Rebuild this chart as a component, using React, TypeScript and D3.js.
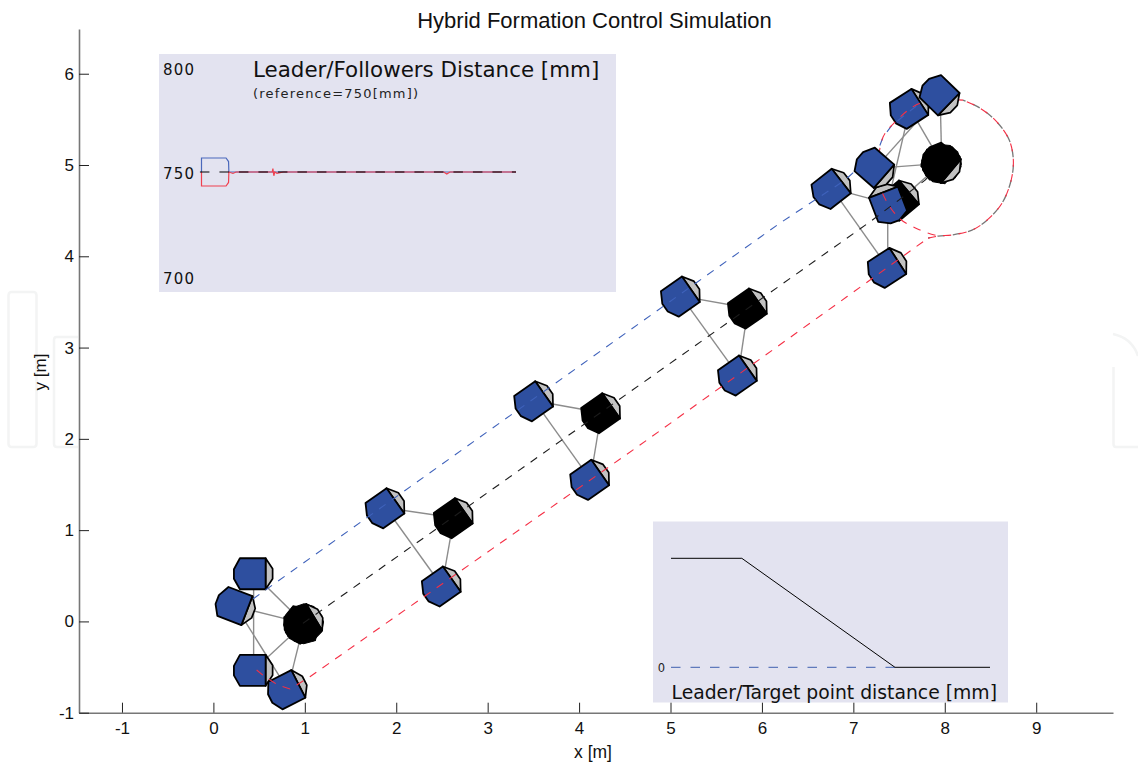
import React, { useRef, useEffect } from 'react';
import * as d3 from 'd3';

type Pt = [number, number];

// axis ticks
const xTicks = [-1, 0, 1, 2, 3, 4, 5, 6, 7, 8, 9];
const yTicks = [-1, 0, 1, 2, 3, 4, 5, 6];

// robots: x [m], y [m], heading [deg], kind ('f' follower, 'l' leader)
const robots: [number, number, number, string][] = [
  [0.99, -0.022, 31, 'l'],
  [0.44, 0.522, 0, 'f'],
  [0.244, 0.165, -21, 'f'],
  [0.44, -0.536, 0, 'f'],
  [0.812, -0.744, 27, 'f'],
  [2.631, 1.136, 35, 'l'],
  [1.884, 1.245, 35, 'f'],
  [2.5, 0.388, 35, 'f'],
  [4.243, 2.286, 35, 'l'],
  [3.51, 2.417, 35, 'f'],
  [4.123, 1.556, 35, 'f'],
  [5.848, 3.433, 35, 'l'],
  [5.115, 3.564, 35, 'f'],
  [5.739, 2.699, 35, 'f'],
  [6.764, 4.744, 38, 'f'],
  [7.376, 3.878, 33, 'f'],
  [7.617, 5.62, 33, 'f'],
  [7.508, 4.616, 40, 'l'],
  [7.376, 4.579, 111, 'f'],
  [7.949, 5.758, -44, 'f'],
  [7.237, 4.963, -41, 'f'],
  [7.967, 5.018, -40, 'l'],
];
// the last three are drawn over the trajectories
const onTopFrom = 19;

// leaders spinning on the spot leave a rounder black body behind them
const spinPoses: [number, number, number][] = [
  [0.99, -0.022, -10],
  [0.99, -0.022, 75],
];
const spinPosesTop: [number, number, number][] = [
  [7.967, 5.018, 5],
  [7.967, 5.018, 50],
];

// links between robots, indexes into robots
const links: Pt[] = [
  [0, 1], [0, 2], [0, 3], [0, 4], [1, 3], [2, 4],
  [5, 6], [5, 7], [6, 7],
  [8, 9], [8, 10], [9, 10],
  [11, 12], [11, 13], [12, 13],
  [14, 15], [14, 18], [15, 18], [16, 21], [19, 21], [20, 21], [16, 18], [19, 20], [21, 17],
];

const bluePath: Pt[] = [
  [0.432, 0.245], [6.198, 4.364], [6.909, 4.835], [7.27, 5.164], [7.325, 5.306], [7.423, 5.437], [7.73, 5.678],
];
const blackPath: Pt[] = [
  [0.979, -0.022], [7.183, 4.378], [7.785, 4.834], [7.967, 5.018],
];
const redLead: Pt[] = [
  [0.473, -0.532], [0.563, -0.606], [0.706, -0.697], [0.837, -0.74], [0.91, -0.697], [1.056, -0.606],
  [4.666, 1.932], [6.928, 3.556], [7.817, 4.199],
];
const loopPath: Pt[] = [
  [7.817, 4.199], [7.93, 4.222], [8.09, 4.235], [8.298, 4.287], [8.462, 4.396], [8.627, 4.583], [8.725, 4.83],
  [8.75, 5.054], [8.705, 5.273], [8.572, 5.47], [8.386, 5.623], [8.2, 5.711],
];
const redReturn: Pt[] = [
  [8.2, 5.711], [7.73, 5.678], [7.423, 5.437], [7.325, 5.306], [7.27, 4.998], [7.292, 4.758], [7.489, 4.429], [7.73, 4.287], [7.93, 4.222],
];

// upper inset: time [%], distance [mm]
const distanceTicks = [800, 750, 700];
const followerBlue: Pt[] = [
  [0, 750], [0, 756.7], [7.8, 756.7], [8.6, 755], [8.7, 750], [100, 750],
];
const followerRed: Pt[] = [
  [0, 750], [0, 743.3], [7.8, 743.3], [8.6, 745], [8.7, 750], [10, 749.3], [11, 750], [22.5, 750], [22.7, 751.6], [23, 748.2],
  [23.3, 750], [24, 749.4], [26, 750], [77, 750], [78, 749], [79, 750], [100, 750],
];
const referenceLine: Pt[] = [[-0.5, 750], [100, 750]];

// lower inset: time [%], distance (no scale printed)
const targetDistance: Pt[] = [[0, 1000], [22.2, 1000], [70.2, 0], [100, 0]];
const targetZero: Pt[] = [[0, 0], [70.2, 0]];

// robot outline in pixels, heading along +x
const rearOutline: Pt[] = [[12, -15.5], [-13.7, -15.5], [-19.7, -4.5], [-19.7, 5], [-13.7, 15.5], [12, 15.5]];
const noseOutline: Pt[] = [[12, -15.5], [19, -5], [19, 5], [12, 15.5]];

const W = 1138;
const H = 766;
const SANS = '"Liberation Sans", Arial, sans-serif';
const DEJAVU = '"DejaVu Sans", Verdana, sans-serif';
const BLUE = '#2e4f9f';
const PANEL = '#e3e3f0';

export default function App(): React.ReactElement {
  const svgRef = useRef<SVGSVGElement | null>(null);

  useEffect(() => {
    const svg = d3.select(svgRef.current);
    svg.selectAll('*').remove();

    const x = d3.scaleLinear().domain([-1.47, 9.84]).range([79, 1113]);
    const y = d3.scaleLinear().domain([-1, 6.49]).range([712.7, 29]);

    // faint watermark left over in the page
    const wm = svg.append('g').attr('fill', 'none').attr('stroke', '#f3f4f4').attr('stroke-width', 2.5);
    wm.append('rect').attr('x', 8.5).attr('y', 292).attr('width', 28).attr('height', 155).attr('rx', 3);
    wm.append('path').attr('d', 'M78,337H56.5Q54,337 54,340V444Q54,447 57,447H78');
    wm.append('path').attr('d', 'M1113,334Q1132,338 1138,356M1113.5,367V444Q1113.5,447 1116,447H1138');

    // insets
    svg.append('rect').attr('x', 159).attr('y', 54).attr('width', 457).attr('height', 238).attr('fill', PANEL);
    svg.append('rect').attr('x', 653).attr('y', 521.5).attr('width', 355).attr('height', 181).attr('fill', PANEL);

    const tUpper = d3.scaleLinear().domain([0, 100]).range([201.5, 516]);
    const vUpper = d3.scaleLinear().domain([700, 800]).range([276.5, 67.5]);
    const upperLine = d3.line<Pt>().x((d) => tUpper(d[0])).y((d) => vUpper(d[1]));

    svg.append('path').attr('d', upperLine(followerBlue)).attr('fill', 'none')
      .attr('stroke', '#4a68bb').attr('stroke-width', 1.2);
    svg.append('path').attr('d', upperLine(followerRed)).attr('fill', 'none')
      .attr('stroke', '#f0404f').attr('stroke-width', 1.2);
    svg.append('path').attr('d', upperLine(referenceLine)).attr('fill', 'none')
      .attr('stroke', '#000').attr('stroke-width', 1.2).attr('stroke-dasharray', '9.5 10');

    svg.append('g').selectAll('text').data(distanceTicks).enter().append('text')
      .attr('x', 163)
      .attr('y', (d) => vUpper(d) + 7)
      .attr('font-family', DEJAVU)
      .attr('font-size', 15)
      .attr('letter-spacing', 1.2)
      .attr('fill', '#111')
      .text((d) => d);

    svg.append('text').attr('x', 253).attr('y', 76.5).attr('font-family', DEJAVU).attr('font-size', 21.4)
      .attr('fill', '#111').text('Leader/Followers Distance [mm]');
    svg.append('text').attr('x', 253).attr('y', 98).attr('font-family', DEJAVU).attr('font-size', 13)
      .attr('letter-spacing', 1.2).attr('fill', '#222').text('(reference=750[mm])');

    const tLower = d3.scaleLinear().domain([0, 100]).range([671, 990]);
    const vLower = d3.scaleLinear().domain([0, 1000]).range([667.3, 558.3]);
    const lowerLine = d3.line<Pt>().x((d) => tLower(d[0])).y((d) => vLower(d[1]));

    svg.append('path').attr('d', lowerLine(targetZero)).attr('fill', 'none')
      .attr('stroke', '#3f5fb0').attr('stroke-width', 1).attr('stroke-dasharray', '9.5 10');
    svg.append('path').attr('d', lowerLine(targetDistance)).attr('fill', 'none')
      .attr('stroke', '#000').attr('stroke-width', 1);
    svg.append('text').attr('x', 665).attr('y', vLower(0) + 4.5).attr('text-anchor', 'end')
      .attr('font-family', DEJAVU).attr('font-size', 11.5).attr('fill', '#222').text('0');
    svg.append('text').attr('x', 671.5).attr('y', 699).attr('font-family', DEJAVU).attr('font-size', 18.8)
      .attr('fill', '#111').text('Leader/Target point distance [mm]');

    // axes
    const xAxis = svg.append('g').attr('transform', `translate(0,${y(-1)})`)
      .call(d3.axisBottom(x).tickValues(xTicks).tickFormat((d) => String(d)).tickSize(-10).tickSizeOuter(0).tickPadding(9));
    const yAxis = svg.append('g').attr('transform', `translate(${x(-1.47)},0)`)
      .call(d3.axisLeft(y).tickValues(yTicks).tickFormat((d) => String(d)).tickSize(-10).tickSizeOuter(0).tickPadding(5));
    [xAxis, yAxis].forEach((axis) => {
      axis.select('.domain').attr('stroke', '#777').attr('stroke-width', 1.6);
      axis.selectAll('.tick line').attr('stroke', '#222').attr('stroke-width', 1);
      axis.selectAll('.tick text').attr('font-family', SANS).attr('font-size', 17).attr('fill', '#111');
    });

    svg.append('text').attr('x', 594.5).attr('y', 28).attr('text-anchor', 'middle')
      .attr('font-family', SANS).attr('font-size', 22).attr('fill', '#111')
      .text('Hybrid Formation Control Simulation');
    svg.append('text').attr('x', 593).attr('y', 757.5).attr('text-anchor', 'middle')
      .attr('font-family', SANS).attr('font-size', 17.5).attr('fill', '#111').text('x [m]');
    svg.append('text').attr('transform', 'translate(46,372) rotate(-90)').attr('text-anchor', 'middle')
      .attr('font-family', SANS).attr('font-size', 17).attr('fill', '#111').text('y [m]');

    // links between robots go under the bodies
    svg.append('g').selectAll('line').data(links).enter().append('line')
      .attr('x1', (d) => x(robots[d[0]][0]))
      .attr('y1', (d) => y(robots[d[0]][1]))
      .attr('x2', (d) => x(robots[d[1]][0]))
      .attr('y2', (d) => y(robots[d[1]][1]))
      .attr('stroke', '#8c8c8c')
      .attr('stroke-width', 1.4);

    const outline = d3.line<Pt>();
    const place = (g: d3.Selection<SVGGElement, any, any, any>) => g
      .attr('transform', (d: any) => `translate(${x(d[0])},${y(d[1])}) rotate(${-d[2]})`);

    const drawSpin = (poses: [number, number, number][]) => {
      svg.append('g').selectAll('g').data(poses).enter().append('g').call(place)
        .append('path')
        .attr('d', `${outline(rearOutline.concat(noseOutline.slice().reverse()))}Z`)
        .attr('fill', '#000')
        .attr('stroke', '#000');
    };

    const drawRobots = (list: typeof robots) => {
      const bodies = svg.append('g').selectAll('g').data(list).enter().append('g').call(place);
      bodies.append('path')
        .attr('d', `${outline(noseOutline)}Z`)
        .attr('fill', '#c2c2c2')
        .attr('stroke', '#000')
        .attr('stroke-width', 1.7)
        .attr('stroke-linejoin', 'round');
      bodies.append('path')
        .attr('d', `${outline(rearOutline)}Z`)
        .attr('fill', (d) => (d[3] === 'l' ? '#000' : BLUE))
        .attr('stroke', '#000')
        .attr('stroke-width', 1.8)
        .attr('stroke-linejoin', 'round');
    };

    drawSpin(spinPoses);
    drawRobots(robots.slice(0, onTopFrom));

    // trajectories
    const track = d3.line<Pt>().x((d) => x(d[0])).y((d) => y(d[1]));
    const smooth = d3.line<Pt>().x((d) => x(d[0])).y((d) => y(d[1])).curve(d3.curveCatmullRom);
    const dashed = (d: string | null, color: string, offset = 0, width = 1.1) => svg.append('path')
      .attr('d', d)
      .attr('fill', 'none')
      .attr('stroke', color)
      .attr('stroke-width', width)
      .attr('stroke-dasharray', '8 7.5')
      .attr('stroke-dashoffset', offset);

    dashed(track(bluePath), '#3f62bb');
    dashed(track(blackPath), '#1c1c1c');
    dashed(smooth(loopPath), '#777', 6, 1.3);
    dashed(track(redLead), '#f52f45');
    dashed(smooth(loopPath), '#f52f45');
    dashed(smooth(redReturn), '#f52f45', 3);

    drawSpin(spinPosesTop);
    drawRobots(robots.slice(onTopFrom));
  }, []);

  return (
    <svg
      ref={svgRef}
      width={W}
      height={H}
      style={{ position: 'absolute', left: 0, top: 0, background: '#fff' }}
    />
  );
}
